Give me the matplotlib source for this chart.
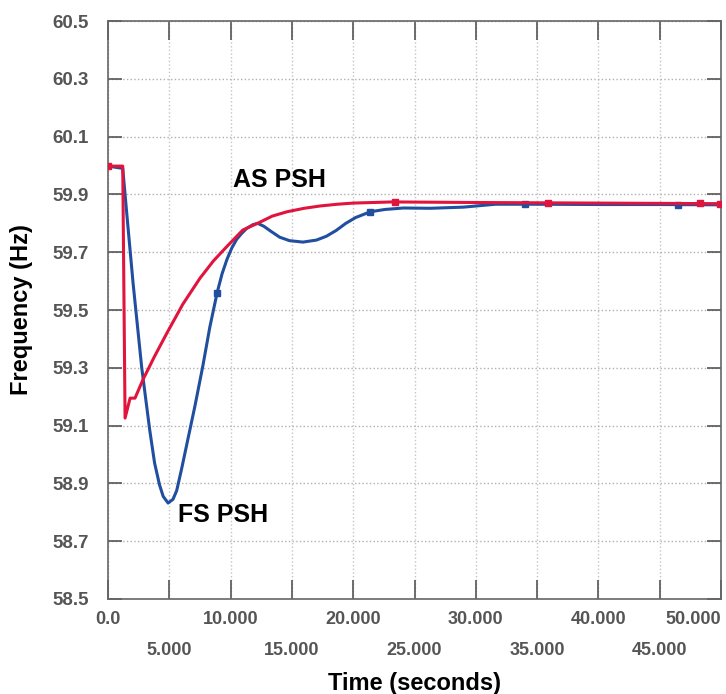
import matplotlib.pyplot as plt
import numpy as np

plt.rcParams['font.family'] = ['Liberation Sans', 'DejaVu Sans']
plt.rcParams['font.weight'] = 'bold'

# AS PSH (red) response
as_t = [0, 1.2, 1.39, 1.8, 2.2, 2.86, 3.8, 4.8, 6.1, 7.5, 8.6, 9.7, 11.0, 12.2,
        13.4, 14.6, 16.0, 17.3, 18.7, 20.0, 23.2, 30.0, 40.0, 50.0]
as_v = [59.998, 59.998, 59.126, 59.195, 59.195, 59.26, 59.34, 59.42, 59.52, 59.61,
        59.67, 59.72, 59.777, 59.80, 59.825, 59.84, 59.852, 59.86, 59.866, 59.87,
        59.874, 59.872, 59.87, 59.868]
as_mk_t = [0, 23.4, 35.9, 48.3, 49.9]
as_mk_v = [59.998, 59.874, 59.872, 59.87, 59.868]

# FS PSH (blue) response
fs_t = [0, 1.2, 1.6, 2.05, 2.75, 3.4, 3.8, 4.2, 4.5, 4.9, 5.3, 5.6, 6.0, 6.4,
        7.1, 7.75, 8.3, 8.9, 9.3, 9.7, 10.1, 10.5, 10.9, 11.3, 11.8, 12.2, 12.7,
        13.3, 14.0, 14.8, 15.9, 17.0, 17.8, 18.6, 19.4, 20.2, 21.4, 22.6, 24.1,
        26.3, 29.0, 31.6, 35.0, 40.0, 45.0, 50.0]
fs_v = [59.998, 59.99, 59.80, 59.59, 59.30, 59.085, 58.97, 58.895, 58.855,
        58.832, 58.845, 58.875, 58.95, 59.03, 59.17, 59.31, 59.44, 59.56, 59.625,
        59.675, 59.715, 59.745, 59.765, 59.782, 59.795, 59.80, 59.79, 59.772,
        59.752, 59.74, 59.735, 59.742, 59.755, 59.775, 59.80, 59.82, 59.84,
        59.848, 59.853, 59.852, 59.856, 59.866, 59.866, 59.865, 59.865, 59.864]
fs_mk_t = [8.9, 21.4, 34.0, 46.5]
fs_mk_v = [59.56, 59.84, 59.866, 59.865]

major_x = np.arange(0, 50.1, 10)
minor_x = np.arange(5, 50, 10)
major_labels = ['0.0', '10.000', '20.000', '30.000', '40.000', '50.000']
minor_labels = ['5.000', '15.000', '25.000', '35.000', '45.000']
y_ticks = np.arange(58.5, 60.51, 0.2)

fig = plt.figure(figsize=(7.26, 6.94), dpi=100)
ax = fig.add_axes([0.1488, 0.1369, 0.8443, 0.8328])

ax.plot(fs_t, fs_v, color='#1f4f9e', lw=2.2, zorder=3, solid_joinstyle='round')
ax.plot(fs_mk_t, fs_mk_v, 's', color='#1f4f9e', ms=4.5, zorder=4)
ax.plot(as_t, as_v, color='#e0143c', lw=2.2, zorder=5, solid_joinstyle='round')
ax.plot(as_mk_t, as_mk_v, 's', color='#e0143c', ms=4.5, zorder=6)

ax.set_xlim(0, 50)
ax.set_ylim(58.5, 60.5)
ax.set_yticks(y_ticks)
ax.set_yticklabels(['%.1f' % v for v in y_ticks])
ax.set_xticks(major_x)
ax.set_xticklabels(major_labels)
ax.set_xticks(minor_x, minor=True)
ax.set_xticklabels(minor_labels, minor=True)
last = ax.get_xticklabels()[-1]
last.set_ha('right')
last.set_x(50.35)

ax.grid(True, which='both', axis='x', linestyle=':', color='#c4c4c4', lw=1.0)
ax.grid(True, axis='y', linestyle=':', color='#b0b0b0', lw=1.0)
ax.tick_params(axis='x', which='both', direction='in', top=True, length=14,
               width=1.2, color='#555555', labelcolor='#555555', labelsize=13)
ax.tick_params(axis='x', which='major', pad=9)
ax.tick_params(axis='x', which='minor', pad=31)
ax.tick_params(axis='y', direction='in', right=True, length=10, width=1.2,
               color='#555555', labelcolor='#555555', labelsize=13.5, pad=14)
for s in ax.spines.values():
    s.set_color('#666666')
    s.set_linewidth(1.2)

ax.text(14.0, 59.95, 'AS PSH', fontsize=18, fontweight='bold', ha='center', va='center')
ax.text(9.4, 58.79, 'FS PSH', fontsize=18, fontweight='bold', ha='center', va='center')

ax.set_xlabel('Time (seconds)', fontsize=17, fontweight='bold', labelpad=9)
ax.set_ylabel('Frequency (Hz)', fontsize=17, fontweight='bold', labelpad=14)

fig.savefig('out.png', dpi=100)
